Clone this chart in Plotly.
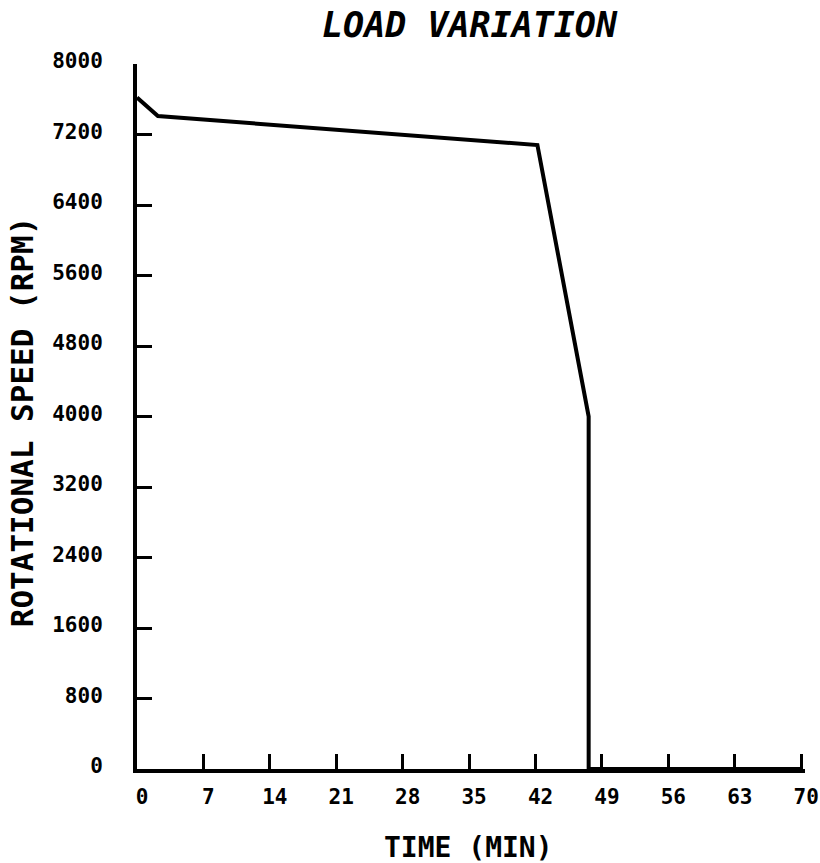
import plotly.graph_objects as go

# Speed trace under the load-variation test
time_min = [0.0, 2.2, 42.2, 47.6, 47.6, 70.0]
speed_rpm = [7620, 7410, 7080, 4000, 0, 0]

x_ticks = [0, 7, 14, 21, 28, 35, 42, 49, 56, 63, 70]
y_ticks = [0, 800, 1600, 2400, 3200, 4000, 4800, 5600, 6400, 7200, 8000]
y_tick_text = ["0", "800", "1600", "2400", "3200", "4000", "4800", "5600", "6400", "7200", "8000"]

MONO = "DejaVu Sans Mono"

fig = go.Figure()
fig.add_trace(go.Scatter(
    x=time_min, y=speed_rpm, mode="lines",
    line=dict(color="black", width=4),
    hoverinfo="skip", showlegend=False,
))

axis_common = dict(
    showgrid=False, zeroline=False, automargin=False,
    showline=True, linecolor="black", linewidth=4,
    ticks="inside", ticklen=15, tickwidth=3, tickcolor="black",
    tickfont=dict(family=MONO, size=21, color="black", weight="bold"),
    ticklabeloverflow="allow",
)

# a little room past 70 so the last tick mark is kept
fig.update_xaxes(
    range=[0, 70.4], tickvals=x_ticks, ticktext=[str(v) for v in x_ticks],
    ticklabelstandoff=6, ticklabelshift=5, **axis_common,
)
fig.update_yaxes(
    range=[0, 8000.5], tickvals=y_ticks, ticktext=y_tick_text,
    ticklabelstandoff=26, ticklabelshift=-3, **axis_common,
)

fig.update_layout(
    width=820, height=863,
    margin=dict(l=137, r=15, t=64, b=94, autoexpand=False),
    paper_bgcolor="white", plot_bgcolor="white",
    annotations=[
        dict(text="<i>LOAD VARIATION</i>", xref="paper", yref="paper",
             x=0.499, y=1.055, xanchor="center", yanchor="middle", showarrow=False,
             font=dict(family=MONO, size=35, color="black", weight="bold")),
        dict(text="TIME (MIN)", xref="paper", yref="paper",
             x=0.496, y=-0.112, xanchor="center", yanchor="middle", showarrow=False,
             font=dict(family=MONO, size=28, color="black", weight="bold")),
        dict(text="ROTATIONAL SPEED (RPM)", xref="paper", yref="paper",
             x=-0.172, y=0.492, xanchor="center", yanchor="middle", showarrow=False,
             textangle=-90,
             font=dict(family=MONO, size=31, color="black", weight="bold")),
    ],
)

fig.write_html("out.html")
